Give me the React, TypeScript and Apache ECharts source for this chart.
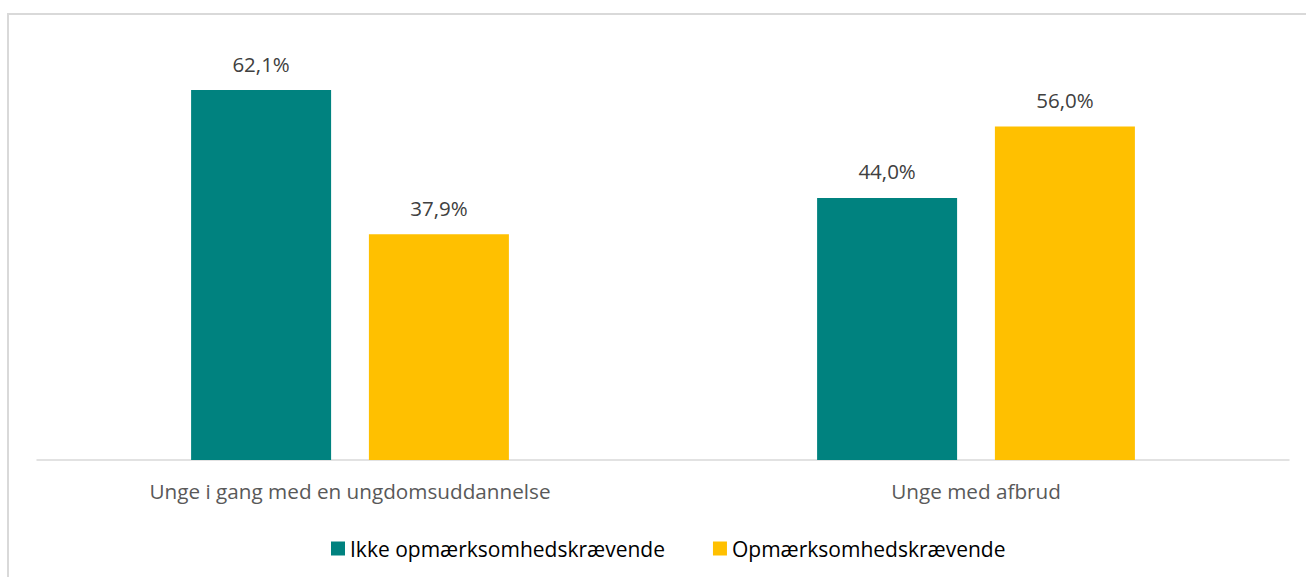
import React, { useEffect, useRef } from "react";
import * as echarts from "echarts";

const categories = ["Unge i gang med en ungdomsuddannelse", "Unge med afbrud"];
const seriesNames = ["Ikke opmærksomhedskrævende", "Opmærksomhedskrævende"];
const ikkeValues = [62.1, 44.0];
const opmValues = [37.9, 56.0];
const colors = ["#00827F", "#FFC000"];

export default function App() {
  const ref = useRef<HTMLDivElement>(null);
  useEffect(() => {
    if (!ref.current) return;
    const chart = echarts.init(ref.current, null, { renderer: "svg" });
    const fmt = (p: any) => p.value.toFixed(1).replace(".", ",") + "%";
    chart.setOption({
      animation: false,
      backgroundColor: "#ffffff",
      textStyle: { fontFamily: "Open Sans" },
      graphic: [
        {
          type: "rect",
          shape: { x: 8, y: 14, width: 1320, height: 620 },
          style: { fill: "none", stroke: "#d9d9d9", lineWidth: 2 },
          silent: true,
        },
      ],
      grid: { left: 37, right: 17, top: 43, bottom: 117 },
      xAxis: {
        type: "category",
        data: categories,
        axisLine: { lineStyle: { color: "#d9d9d9", width: 1.5 } },
        axisTick: { show: false },
        axisLabel: { color: "#595959", fontSize: 20.7, margin: 20, fontFamily: "Open Sans" },
      },
      yAxis: {
        type: "value",
        min: 0,
        max: 70,
        show: false,
        splitLine: { show: false },
      },
      legend: {
        left: 326,
        top: 533,
        itemWidth: 14,
        itemHeight: 14,
        itemGap: 48,
        icon: "rect",
        textStyle: { color: "#000000", fontSize: 21, fontFamily: "Open Sans" },
        data: seriesNames,
      },
      series: [
        {
          name: seriesNames[0],
          type: "bar",
          data: ikkeValues,
          barWidth: 140,
          barGap: "27%",
          itemStyle: { color: colors[0] },
          label: { show: true, position: "top", distance: 16, color: "#404040", fontSize: 20.5, formatter: fmt, fontFamily: "Open Sans" },
        },
        {
          name: seriesNames[1],
          type: "bar",
          data: opmValues,
          barWidth: 140,
          itemStyle: { color: colors[1] },
          label: { show: true, position: "top", distance: 16, color: "#404040", fontSize: 20.5, formatter: fmt, fontFamily: "Open Sans" },
        },
      ],
    });
    return () => chart.dispose();
  }, []);
  return (
    <div
      ref={ref}
      style={{ position: "fixed", left: 0, top: 0, width: 1306, height: 577 }}
    />
  );
}
